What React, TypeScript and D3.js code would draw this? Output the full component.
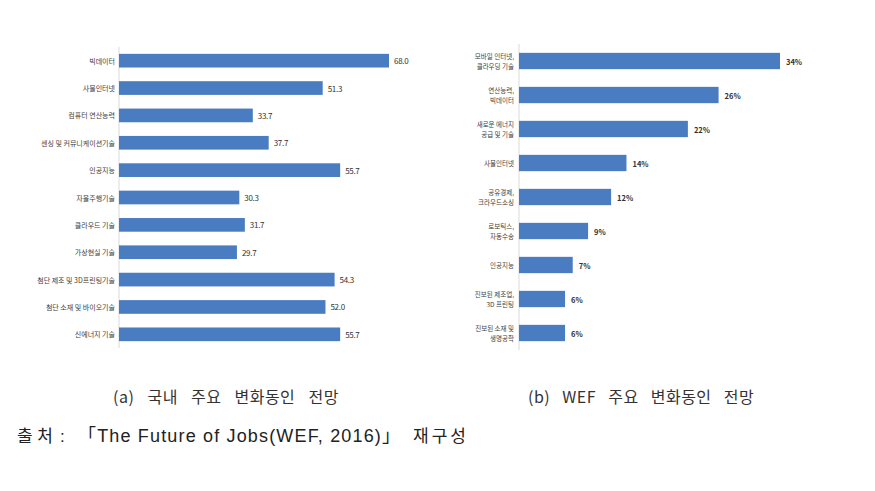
import React from "react";
import * as d3 from "d3";

const leftCategories = [
  "빅데이터",
  "사물인터넷",
  "컴퓨터 연산능력",
  "센싱 및 커뮤니케이션기술",
  "인공지능",
  "자율주행기술",
  "클라우드 기술",
  "가상현실 기술",
  "첨단 제조 및 3D프린팅기술",
  "첨단 소재 및 바이오기술",
  "신에너지 기술",
];
const leftValues = [68.0, 51.3, 33.7, 37.7, 55.7, 30.3, 31.7, 29.7, 54.3, 52.0, 55.7];

const rightCategories = [
  ["모바일 인터넷,", "클라우딩 기술"],
  ["연산능력,", "빅데이터"],
  ["새로운 에너지", "공급 및 기술"],
  ["사물인터넷"],
  ["공유경제,", "크라우드소싱"],
  ["로보틱스,", "자동수송"],
  ["인공지능"],
  ["진보된 제조업,", "3D 프린팅"],
  ["진보된 소재 및", "생명공학"],
];
const rightValues = [34, 26, 22, 14, 12, 9, 7, 6, 6];

const captionA = "(a) 국내 주요 변화동인 전망";
const captionB = "(b) WEF 주요 변화동인 전망";
const sourceParts = ["출처", ":", "「The Future of Jobs(WEF, 2016)」", "재구성"];

const BAR = "#4a7cc2";
const FONT = "'Noto Sans CJK KR', 'Noto Sans', sans-serif";
const SRC_FONT = "'Liberation Sans', 'Noto Sans CJK KR', sans-serif";

export default function App() {
  const W = 875;
  const H = 491;

  // Left chart
  const lx = d3.scaleLinear().domain([0, 68]).range([119, 389]);
  const ly = d3
    .scaleBand<number>()
    .domain(d3.range(leftCategories.length))
    .range([47, 348])
    .paddingInner(0.5)
    .paddingOuter(0.25);

  // Right chart
  const rx = d3.scaleLinear().domain([0, 34]).range([519, 780]);
  const ry = d3
    .scaleBand<number>()
    .domain(d3.range(rightCategories.length))
    .range([44, 350])
    .paddingInner(0.52)
    .paddingOuter(0.26);

  return (
    <svg
      width={W}
      height={H}
      style={{ position: "absolute", left: 0, top: 0, background: "#fff" }}
      fontFamily={FONT}
    >
      <rect width={W} height={H} fill="#fff" />
      {/* Left chart */}
      <line x1={lx(0)} x2={lx(0)} y1={47} y2={348} stroke="#d9d9d9" strokeWidth={1} />
      {leftValues.map((v, i) => {
        const y = ly(i)!;
        const bh = ly.bandwidth();
        return (
          <g key={"l" + i}>
            <rect x={lx(0)} y={y} width={lx(v) - lx(0)} height={bh} fill={BAR} />
            <text
              x={115}
              y={y + bh / 2}
              textAnchor="end"
              dominantBaseline="central"
              fontSize={7}
              fill="#404040"
            >
              {leftCategories[i]}
            </text>
            <text
              x={lx(v) + 5}
              y={y + bh / 2}
              dominantBaseline="central"
              fontSize={8}
              fill="#333"
              letterSpacing={-0.3}
            >
              {v.toFixed(1)}
            </text>
          </g>
        );
      })}

      {/* Right chart */}
      <line x1={rx(0)} x2={rx(0)} y1={44} y2={350} stroke="#d9d9d9" strokeWidth={1} />
      {rightValues.map((v, i) => {
        const y = ry(i)!;
        const bh = ry.bandwidth();
        const lines = rightCategories[i];
        const cy = y + bh / 2;
        return (
          <g key={"r" + i}>
            <rect x={rx(0)} y={y} width={rx(v) - rx(0)} height={bh} fill={BAR} />
            {lines.map((t, j) => (
              <text
                key={j}
                x={514}
                y={cy + (j - (lines.length - 1) / 2) * 10}
                textAnchor="end"
                dominantBaseline="central"
                fontSize={6.5}
                fill="#404040"
              >
                {t}
              </text>
            ))}
            <text
              x={rx(v) + 6}
              y={cy}
              dominantBaseline="central"
              fontSize={7.5}
              fontWeight={700}
              fill="#333"
            >
              {v + "%"}
            </text>
          </g>
        );
      })}

      {/* Captions */}
      <text
        x={113}
        y={396}
        dominantBaseline="central"
        fontSize={16}
        fill="#333"
        letterSpacing={0.5}
        wordSpacing={9}
      >
        {captionA}
      </text>
      <text
        x={528}
        y={396}
        dominantBaseline="central"
        fontSize={16}
        fill="#333"
        letterSpacing={0.5}
        wordSpacing={8}
      >
        {captionB}
      </text>

      {/* Source */}
      <g fontFamily={SRC_FONT} fill="#222" fontSize={17}>
        <text x={17} y={436} dominantBaseline="central" textLength={36} lengthAdjust="spacing">
          {sourceParts[0]}
        </text>
        <text x={60} y={436} dominantBaseline="central">
          {sourceParts[1]}
        </text>
        <text
          x={78}
          y={436}
          dominantBaseline="central"
          fontSize={18}
          textLength={322}
          lengthAdjust="spacing"
        >
          {sourceParts[2]}
        </text>
        <text x={413} y={436} dominantBaseline="central" textLength={53} lengthAdjust="spacing">
          {sourceParts[3]}
        </text>
      </g>
    </svg>
  );
}
